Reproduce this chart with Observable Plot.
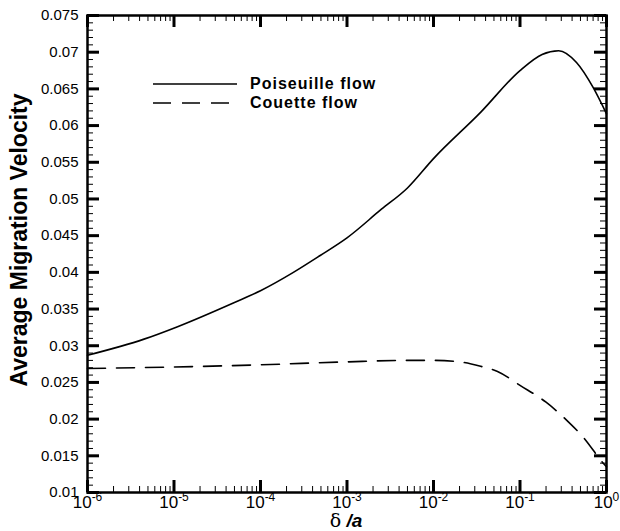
<!DOCTYPE html>
<html>
<head>
<meta charset="utf-8">
<script src="https://cdn.jsdelivr.net/npm/d3@7"></script>
<script src="https://cdn.jsdelivr.net/npm/@observablehq/plot@0.6"></script>
<style>
  body { margin: 0; background: #fff; }
  #wrap { position: relative; width: 620px; height: 531px; font-family: Arial, "Liberation Sans", Helvetica, sans-serif; color: #000; overflow: hidden; }
  #wrap svg.chart { position: absolute; left: 0; top: 0; }
  .ytitle { position: absolute; left: 19px; top: 240px; transform: translate(-50%, -50%) rotate(-90deg); white-space: nowrap; font-weight: bold; font-size: 23px; line-height: 1; }
  .xtitle { position: absolute; left: 346px; top: 512px; transform: translateX(-50%); white-space: nowrap; font-size: 19px; line-height: 17px; }
  .xtitle b { font-style: italic; }
  .leg-line { position: absolute; }
  .leg-text { position: absolute; font-weight: bold; font-size: 16px; line-height: 14px; letter-spacing: 1px; white-space: nowrap; transform: translateY(-50%); }
</style>
</head>
<body>
<div id="wrap"></div>
<script>
// ---- data ----
const poiseuilleX = [1e-6, 4.5e-6, 1.1e-5, 5e-5, 1e-4, 2.4e-4, 4.9e-4, 1e-3, 2.5e-3, 5e-3, 1e-2, 3.5e-2, 1e-1, 0.18, 0.28, 0.45, 0.7, 1];
const poiseuilleY = [0.0287, 0.0309, 0.0326, 0.0359, 0.0375, 0.0400, 0.0423, 0.0447, 0.0486, 0.0515, 0.0555, 0.0618, 0.0675, 0.0697, 0.0702, 0.0686, 0.0652, 0.0616];
const couetteX = [1e-6, 1e-5, 1e-4, 1e-3, 5e-3, 1e-2, 2e-2, 3.5e-2, 5.5e-2, 1e-1, 0.2, 0.35, 0.55, 0.9, 1];
const couetteY = [0.0269, 0.0271, 0.0274, 0.0278, 0.0280, 0.0280, 0.0278, 0.0272, 0.0265, 0.0246, 0.0223, 0.0198, 0.0174, 0.0141, 0.0135];
const seriesNames = ["Poiseuille flow", "Couette flow"];
const xMajorTicks = [1e-6, 1e-5, 1e-4, 1e-3, 1e-2, 1e-1, 1];
const xTickLabels = ["10^-6", "10^-5", "10^-4", "10^-3", "10^-2", "10^-1", "10^0"];
const yMajorTicks = [0.01, 0.015, 0.02, 0.025, 0.03, 0.035, 0.04, 0.045, 0.05, 0.055, 0.06, 0.065, 0.07, 0.075];
const yTickLabels = ["0.01", "0.015", "0.02", "0.025", "0.03", "0.035", "0.04", "0.045", "0.05", "0.055", "0.06", "0.065", "0.07", "0.075"];
const xTitleSymbol = "δ";
const xTitleVar = "a";
const yTitle = "Average Migration Velocity";

// ---- derived tables ----
const poiseuille = poiseuilleX.map((x, i) => ({x, y: poiseuilleY[i]}));
const couette = couetteX.map((x, i) => ({x, y: couetteY[i]}));
const xMinor = d3.scaleLog().domain([1e-6, 1]).ticks()
  .filter(d => Math.abs(Math.log10(d) - Math.round(Math.log10(d))) > 1e-6);
const yMinor = d3.ticks(0.01, 0.075, 65).filter(d => Math.round(d * 1000) % 5 !== 0);

const W = 620, H = 531, mL = 87, mR = 14, mT = 15, mB = 39;
const pw = W - mL - mR, ph = H - mT - mB;
const majLen = 12, minLen = 6;

const chart = Plot.plot({
  width: W, height: H,
  marginLeft: mL, marginRight: mR, marginTop: mT, marginBottom: mB,
  x: {type: "log", domain: [1e-6, 1]},
  y: {domain: [0.01, 0.075]},
  style: {fontFamily: 'Arial, "Liberation Sans", Helvetica, sans-serif', color: "black", background: "white", overflow: "visible"},
  marks: [
    // minor ticks (inward, all four sides)
    Plot.tickX(xMinor, {x: d => d, stroke: "black", strokeWidth: 1, insetTop: ph - minLen}),
    Plot.tickX(xMinor, {x: d => d, stroke: "black", strokeWidth: 1, insetBottom: ph - minLen}),
    Plot.tickY(yMinor, {y: d => d, stroke: "black", strokeWidth: 1, insetRight: pw - minLen}),
    Plot.tickY(yMinor, {y: d => d, stroke: "black", strokeWidth: 1, insetLeft: pw - minLen}),
    // major ticks
    Plot.tickX(xMajorTicks, {x: d => d, stroke: "black", strokeWidth: 3, insetTop: ph - majLen}),
    Plot.tickX(xMajorTicks, {x: d => d, stroke: "black", strokeWidth: 3, insetBottom: ph - majLen}),
    Plot.tickY(yMajorTicks, {y: d => d, stroke: "black", strokeWidth: 3, insetRight: pw - majLen}),
    Plot.tickY(yMajorTicks, {y: d => d, stroke: "black", strokeWidth: 3, insetLeft: pw - majLen}),
    // tick labels
    Plot.axisX(xMajorTicks, {anchor: "bottom", tickSize: 0, tickPadding: 3, fontSize: 17, label: null,
      tickFormat: d => xTickLabels[xMajorTicks.indexOf(d)]}),
    Plot.axisY(yMajorTicks, {anchor: "left", tickSize: 0, tickPadding: 9, fontSize: 15, label: null,
      tickFormat: d => yTickLabels[yMajorTicks.indexOf(d)]}),
    // data
    Plot.line(poiseuille, {x: "x", y: "y", stroke: "black", strokeWidth: 1.6, curve: "monotone-x"}),
    Plot.line(couette, {x: "x", y: "y", stroke: "black", strokeWidth: 1.6, strokeDasharray: "18,11", curve: "monotone-x"}),
    Plot.frame({stroke: "black", strokeWidth: 2.5})
  ]
});
chart.classList.add("chart");

// superscript exponents on x tick labels
chart.querySelectorAll('g[aria-label="x-axis tick label"] text').forEach(t => {
  const s = t.textContent;
  const [base, exp] = s.split("^");
  t.textContent = "";
  t.setAttribute("font-size", "17");
  const ns = "http://www.w3.org/2000/svg";
  const t1 = document.createElementNS(ns, "tspan");
  t1.textContent = base;
  const t2 = document.createElementNS(ns, "tspan");
  t2.textContent = exp;
  t2.setAttribute("dy", "-7");
  t2.setAttribute("font-size", "12");
  t.appendChild(t1); t.appendChild(t2);
});
chart.querySelectorAll('g[aria-label="y-axis tick label"] text').forEach(t => t.setAttribute("font-size", "15"));

const wrap = document.getElementById("wrap");
wrap.appendChild(chart);

// axis titles
const yt = document.createElement("div");
yt.className = "ytitle";
yt.textContent = yTitle;
wrap.appendChild(yt);

const xt = document.createElement("div");
xt.className = "xtitle";
xt.innerHTML = `<span style="font-family:'DejaVu Serif', serif">${xTitleSymbol}</span><b> /${xTitleVar}</b>`;
wrap.appendChild(xt);

// legend
const legendRows = [
  {name: seriesNames[0], dash: null, top: 84},
  {name: seriesNames[1], dash: "18,11", top: 103}
];
legendRows.forEach(r => {
  const svgNS = "http://www.w3.org/2000/svg";
  const s = document.createElementNS(svgNS, "svg");
  s.setAttribute("width", 86); s.setAttribute("height", 6);
  s.setAttribute("class", "leg-line");
  s.style.left = "152px"; s.style.top = (r.top - 3) + "px";
  const l = document.createElementNS(svgNS, "line");
  l.setAttribute("x1", 1); l.setAttribute("x2", 85); l.setAttribute("y1", 3); l.setAttribute("y2", 3);
  l.setAttribute("stroke", "black"); l.setAttribute("stroke-width", 1.6);
  if (r.dash) l.setAttribute("stroke-dasharray", r.dash);
  s.appendChild(l);
  wrap.appendChild(s);
  const t = document.createElement("div");
  t.className = "leg-text";
  t.style.left = "250px"; t.style.top = r.top + "px";
  t.textContent = r.name;
  wrap.appendChild(t);
});
</script>
</body>
</html>
